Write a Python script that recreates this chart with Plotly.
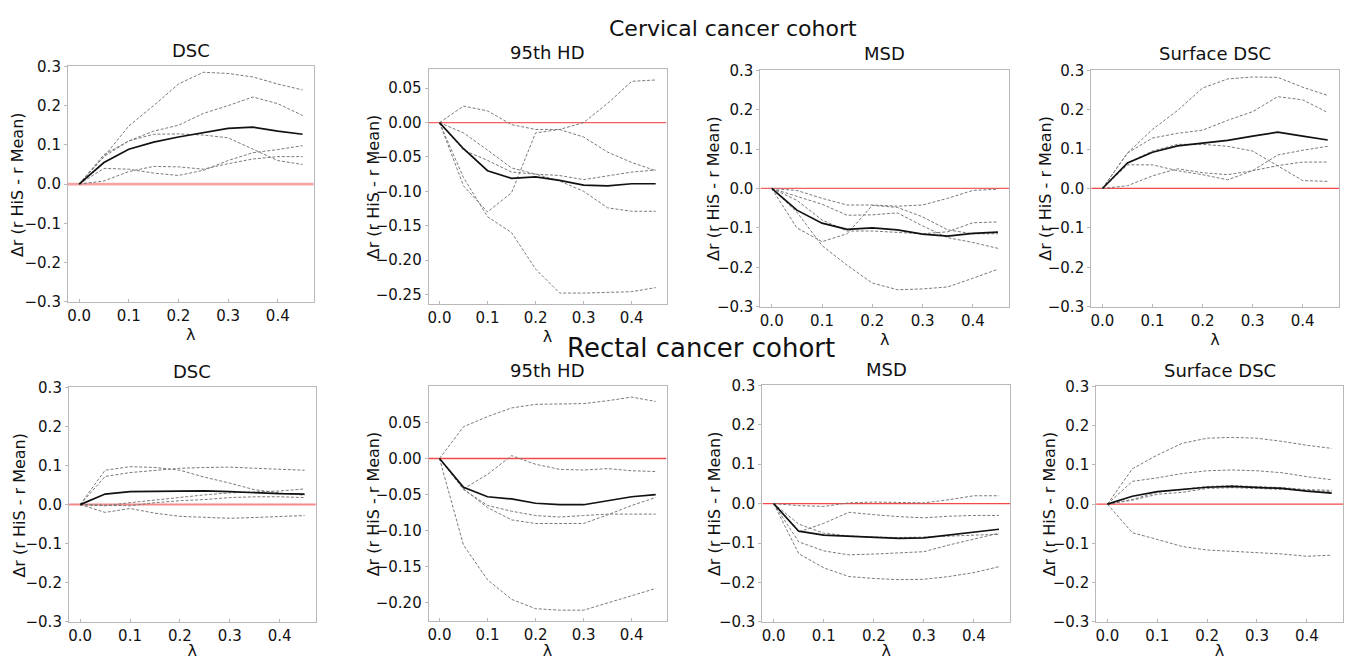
import plotly.graph_objects as go

W, H = 1351, 660

lam = [0.0, 0.05, 0.10, 0.15, 0.20, 0.25, 0.30, 0.35, 0.40, 0.45]

# ---------------- Cervical cancer cohort ----------------
cerv_dsc_mean = [0, 0.055, 0.089, 0.107, 0.120, 0.131, 0.142, 0.145, 0.135, 0.127]
cerv_dsc_runs = [
    [0, 0.070, 0.148, 0.200, 0.255, 0.285, 0.282, 0.273, 0.255, 0.240],
    [0, 0.075, 0.110, 0.135, 0.150, 0.180, 0.200, 0.222, 0.205, 0.175],
    [0, 0.070, 0.110, 0.127, 0.128, 0.125, 0.118, 0.088, 0.060, 0.050],
    [0, 0.040, 0.038, 0.028, 0.022, 0.035, 0.060, 0.080, 0.088, 0.098],
    [0, 0.008, 0.032, 0.045, 0.044, 0.038, 0.052, 0.064, 0.070, 0.070],
]

cerv_hd_mean = [0, -0.038, -0.070, -0.081, -0.079, -0.084, -0.091, -0.092, -0.089, -0.089]
cerv_hd_runs = [
    [0, 0.024, 0.017, -0.003, -0.010, -0.010, -0.021, -0.043, -0.058, -0.070],
    [0, -0.092, -0.130, -0.102, -0.015, -0.010, 0.000, 0.028, 0.060, 0.062],
    [0, -0.080, -0.137, -0.160, -0.213, -0.248, -0.248, -0.247, -0.246, -0.240],
    [0, -0.015, -0.040, -0.066, -0.075, -0.077, -0.083, -0.078, -0.072, -0.069],
    [0, -0.040, -0.055, -0.072, -0.075, -0.085, -0.100, -0.124, -0.129, -0.129],
]

cerv_msd_mean = [0, -0.055, -0.088, -0.104, -0.100, -0.105, -0.116, -0.121, -0.114, -0.111]
cerv_msd_runs = [
    [0, -0.005, -0.025, -0.042, -0.042, -0.045, -0.042, -0.025, -0.005, -0.002],
    [0, -0.020, -0.040, -0.068, -0.067, -0.062, -0.095, -0.125, -0.137, -0.152],
    [0, -0.100, -0.135, -0.115, -0.043, -0.048, -0.072, -0.105, -0.115, -0.115],
    [0, -0.030, -0.080, -0.108, -0.108, -0.112, -0.115, -0.110, -0.087, -0.085],
    [0, -0.060, -0.145, -0.195, -0.240, -0.257, -0.255, -0.250, -0.228, -0.205],
]

cerv_sdsc_mean = [0, 0.065, 0.092, 0.108, 0.115, 0.122, 0.133, 0.143, 0.133, 0.123]
cerv_sdsc_runs = [
    [0, 0.090, 0.150, 0.198, 0.255, 0.278, 0.283, 0.282, 0.257, 0.236],
    [0, 0.090, 0.128, 0.140, 0.148, 0.173, 0.195, 0.233, 0.225, 0.193],
    [0, 0.060, 0.060, 0.045, 0.035, 0.022, 0.045, 0.085, 0.097, 0.107],
    [0, 0.007, 0.032, 0.050, 0.040, 0.035, 0.045, 0.058, 0.067, 0.067],
    [0, 0.065, 0.095, 0.112, 0.112, 0.107, 0.095, 0.058, 0.020, 0.018],
]

# ---------------- Rectal cancer cohort ----------------
rect_dsc_mean = [0, 0.027, 0.033, 0.034, 0.035, 0.035, 0.033, 0.030, 0.028, 0.027]
rect_dsc_runs = [
    [0, 0.088, 0.097, 0.095, 0.088, 0.070, 0.055, 0.038, 0.030, 0.024],
    [0, 0.072, 0.082, 0.088, 0.093, 0.095, 0.096, 0.093, 0.090, 0.088],
    [0, -0.003, 0.005, 0.012, 0.018, 0.025, 0.030, 0.033, 0.035, 0.040],
    [0, -0.002, -0.003, 0.005, 0.010, 0.013, 0.018, 0.020, 0.020, 0.018],
    [0, -0.020, -0.010, -0.022, -0.030, -0.033, -0.035, -0.033, -0.030, -0.028],
]

rect_hd_mean = [0, -0.040, -0.053, -0.056, -0.062, -0.064, -0.064, -0.058, -0.053, -0.050]
rect_hd_runs = [
    [0, 0.044, 0.058, 0.070, 0.075, 0.075, 0.076, 0.080, 0.085, 0.079],
    [0, -0.042, -0.022, 0.004, -0.008, -0.015, -0.016, -0.014, -0.017, -0.018],
    [0, -0.043, -0.065, -0.073, -0.079, -0.081, -0.079, -0.077, -0.077, -0.077],
    [0, -0.042, -0.068, -0.085, -0.090, -0.090, -0.090, -0.078, -0.065, -0.054],
    [0, -0.120, -0.168, -0.195, -0.208, -0.210, -0.210, -0.200, -0.190, -0.180],
]

rect_msd_mean = [0, -0.070, -0.080, -0.083, -0.086, -0.088, -0.087, -0.080, -0.072, -0.065]
rect_msd_runs = [
    [0, -0.005, -0.007, 0.002, 0.004, 0.003, 0.002, 0.010, 0.020, 0.020],
    [0, -0.072, -0.050, -0.022, -0.028, -0.033, -0.036, -0.032, -0.030, -0.030],
    [0, -0.052, -0.075, -0.082, -0.085, -0.086, -0.085, -0.082, -0.080, -0.078],
    [0, -0.097, -0.120, -0.130, -0.128, -0.125, -0.122, -0.105, -0.090, -0.075],
    [0, -0.127, -0.163, -0.185, -0.190, -0.193, -0.192, -0.185, -0.175, -0.160],
]

rect_sdsc_mean = [0, 0.020, 0.032, 0.038, 0.043, 0.045, 0.043, 0.040, 0.033, 0.028]
rect_sdsc_runs = [
    [0, 0.090, 0.125, 0.155, 0.168, 0.170, 0.168, 0.160, 0.150, 0.142],
    [0, 0.058, 0.067, 0.078, 0.085, 0.087, 0.085, 0.080, 0.070, 0.062],
    [0, 0.012, 0.030, 0.038, 0.045, 0.047, 0.045, 0.042, 0.037, 0.035],
    [0, 0.010, 0.025, 0.030, 0.040, 0.042, 0.040, 0.038, 0.035, 0.032],
    [0, -0.073, -0.090, -0.108, -0.117, -0.120, -0.123, -0.127, -0.133, -0.130],
]

panel_titles = ["DSC", "95th HD", "MSD", "Surface DSC"]
cohort_titles = ["Cervical cancer cohort", "Rectal cancer cohort"]
y_title = "Δr (r HiS - r Mean)"
x_title = "λ"

x_ticks = [0.0, 0.1, 0.2, 0.3, 0.4]
y_ticks_std = [-0.3, -0.2, -0.1, 0.0, 0.1, 0.2, 0.3]
y_ticks_hd_cerv = [-0.25, -0.20, -0.15, -0.10, -0.05, 0.00, 0.05]
y_ticks_hd_rect = [-0.20, -0.15, -0.10, -0.05, 0.00, 0.05]


def fmt(v, d):
    s = f"{v:.{d}f}"
    if s.startswith("-"):
        s = "\u2212" + s[1:]
    return s


# panel boxes in pixels: (left, top, right, bottom)
panels = [
    dict(box=(67, 59, 313, 301), mean=cerv_dsc_mean, runs=cerv_dsc_runs, yr=(-0.3, 0.3), yt=y_ticks_std, d=1, title=panel_titles[0], ytx=16, zw=2.6, zc="#f6a3a3"),
    dict(box=(428, 62, 666, 303), mean=cerv_hd_mean, runs=cerv_hd_runs, yr=(-0.2635, 0.0775), yt=y_ticks_hd_cerv, d=2, title=panel_titles[1], ytx=373, zw=1.3, zc="#f26060"),
    dict(box=(760, 63, 1009, 306), mean=cerv_msd_mean, runs=cerv_msd_runs, yr=(-0.3, 0.3), yt=y_ticks_std, d=1, title=panel_titles[2], ytx=713, zw=1.3, zc="#f26060"),
    dict(box=(1091, 63, 1339, 306), mean=cerv_sdsc_mean, runs=cerv_sdsc_runs, yr=(-0.3, 0.3), yt=y_ticks_std, d=1, title=panel_titles[3], ytx=1045, zw=1.3, zc="#f24848"),
    dict(box=(68, 389, 315, 630), mean=rect_dsc_mean, runs=rect_dsc_runs, yr=(-0.3, 0.3), yt=y_ticks_std, d=1, title=panel_titles[0], ytx=19, zw=2.0, zc="#f58888"),
    dict(box=(428, 388, 666, 629), mean=rect_hd_mean, runs=rect_hd_runs, yr=(-0.2248, 0.0998), yt=y_ticks_hd_rect, d=2, title=panel_titles[1], ytx=373, zw=1.3, zc="#f24848"),
    dict(box=(762, 387, 1010, 630), mean=rect_msd_mean, runs=rect_msd_runs, yr=(-0.3, 0.3), yt=y_ticks_std, d=1, title=panel_titles[2], ytx=714, zw=1.3, zc="#f24848"),
    dict(box=(1096, 388, 1343, 630), mean=rect_sdsc_mean, runs=rect_sdsc_runs, yr=(-0.3, 0.3), yt=y_ticks_std, d=1, title=panel_titles[3], ytx=1049, zw=1.3, zc="#f24848"),
]

FONT = "DejaVu Sans"
fig = go.Figure()
annotations = []

for i, p in enumerate(panels):
    n = i + 1
    xa = "x" if n == 1 else f"x{n}"
    ya = "y" if n == 1 else f"y{n}"
    L, T, R, B = p["box"]
    xdom = [L / W, R / W]
    ydom = [1 - B / H, 1 - T / H]

    # zero reference line
    fig.add_trace(go.Scatter(x=[-0.0225, 0.4725], y=[0, 0], mode="lines",
                             line=dict(color=p["zc"], width=p["zw"]),
                             xaxis=xa, yaxis=ya, showlegend=False, hoverinfo="skip"))
    for run in p["runs"]:
        fig.add_trace(go.Scatter(x=lam, y=run, mode="lines",
                                 line=dict(color="#7a7a7a", width=1, dash="3px,1.8px"),
                                 xaxis=xa, yaxis=ya, showlegend=False))
    fig.add_trace(go.Scatter(x=lam, y=p["mean"], mode="lines",
                             line=dict(color="#111111", width=1.7),
                             xaxis=xa, yaxis=ya, showlegend=False))

    axis_common = dict(showline=True, mirror=True, linecolor="#b8b8b8", linewidth=1,
                       showgrid=False, zeroline=False, tickcolor="#b8b8b8", tickwidth=1,
                       tickfont=dict(family=FONT, size=15, color="#111111"))
    fig.update_layout(**{
        ("xaxis" if n == 1 else f"xaxis{n}"): dict(
            domain=xdom, anchor=ya, range=[-0.0225, 0.4725],
            tickmode="array", tickvals=x_ticks, ticktext=[fmt(v, 1) for v in x_ticks],
            ticks="inside", ticklen=3,
            title=dict(text=x_title, standoff=0, font=dict(family=FONT, size=16, color="#111111")),
            **axis_common),
        ("yaxis" if n == 1 else f"yaxis{n}"): dict(
            domain=ydom, anchor=xa, range=list(p["yr"]),
            tickmode="array", tickvals=p["yt"], ticktext=[fmt(v, p["d"]) for v in p["yt"]],
            ticks="outside", ticklen=3,
            **axis_common),
    })

    # subplot title
    annotations.append(dict(text=p["title"], x=(L + R) / 2 / W, y=1 - (T - 4) / H,
                            xref="paper", yref="paper", xanchor="center", yanchor="bottom",
                            showarrow=False, font=dict(family=FONT, size=18, color="#111111")))
    # y title
    annotations.append(dict(text=y_title, x=p["ytx"] / W, y=1 - ((T + B) / 2) / H,
                            xref="paper", yref="paper", xanchor="center", yanchor="middle",
                            textangle=-90, showarrow=False,
                            font=dict(family=FONT, size=16, color="#111111")))

annotations.append(dict(text=cohort_titles[0], x=733 / W, y=1 - 20 / H, xref="paper", yref="paper",
                        xanchor="center", yanchor="middle", showarrow=False,
                        font=dict(family=FONT, size=22, color="#111111")))
annotations.append(dict(text=cohort_titles[1], x=701 / W, y=1 - 349 / H, xref="paper", yref="paper",
                        xanchor="center", yanchor="middle", showarrow=False,
                        font=dict(family=FONT, size=26, color="#111111")))

fig.update_layout(width=W, height=H, margin=dict(l=0, r=0, t=0, b=0),
                  paper_bgcolor="white", plot_bgcolor="white",
                  annotations=annotations, showlegend=False)

fig.write_html("out.html")
